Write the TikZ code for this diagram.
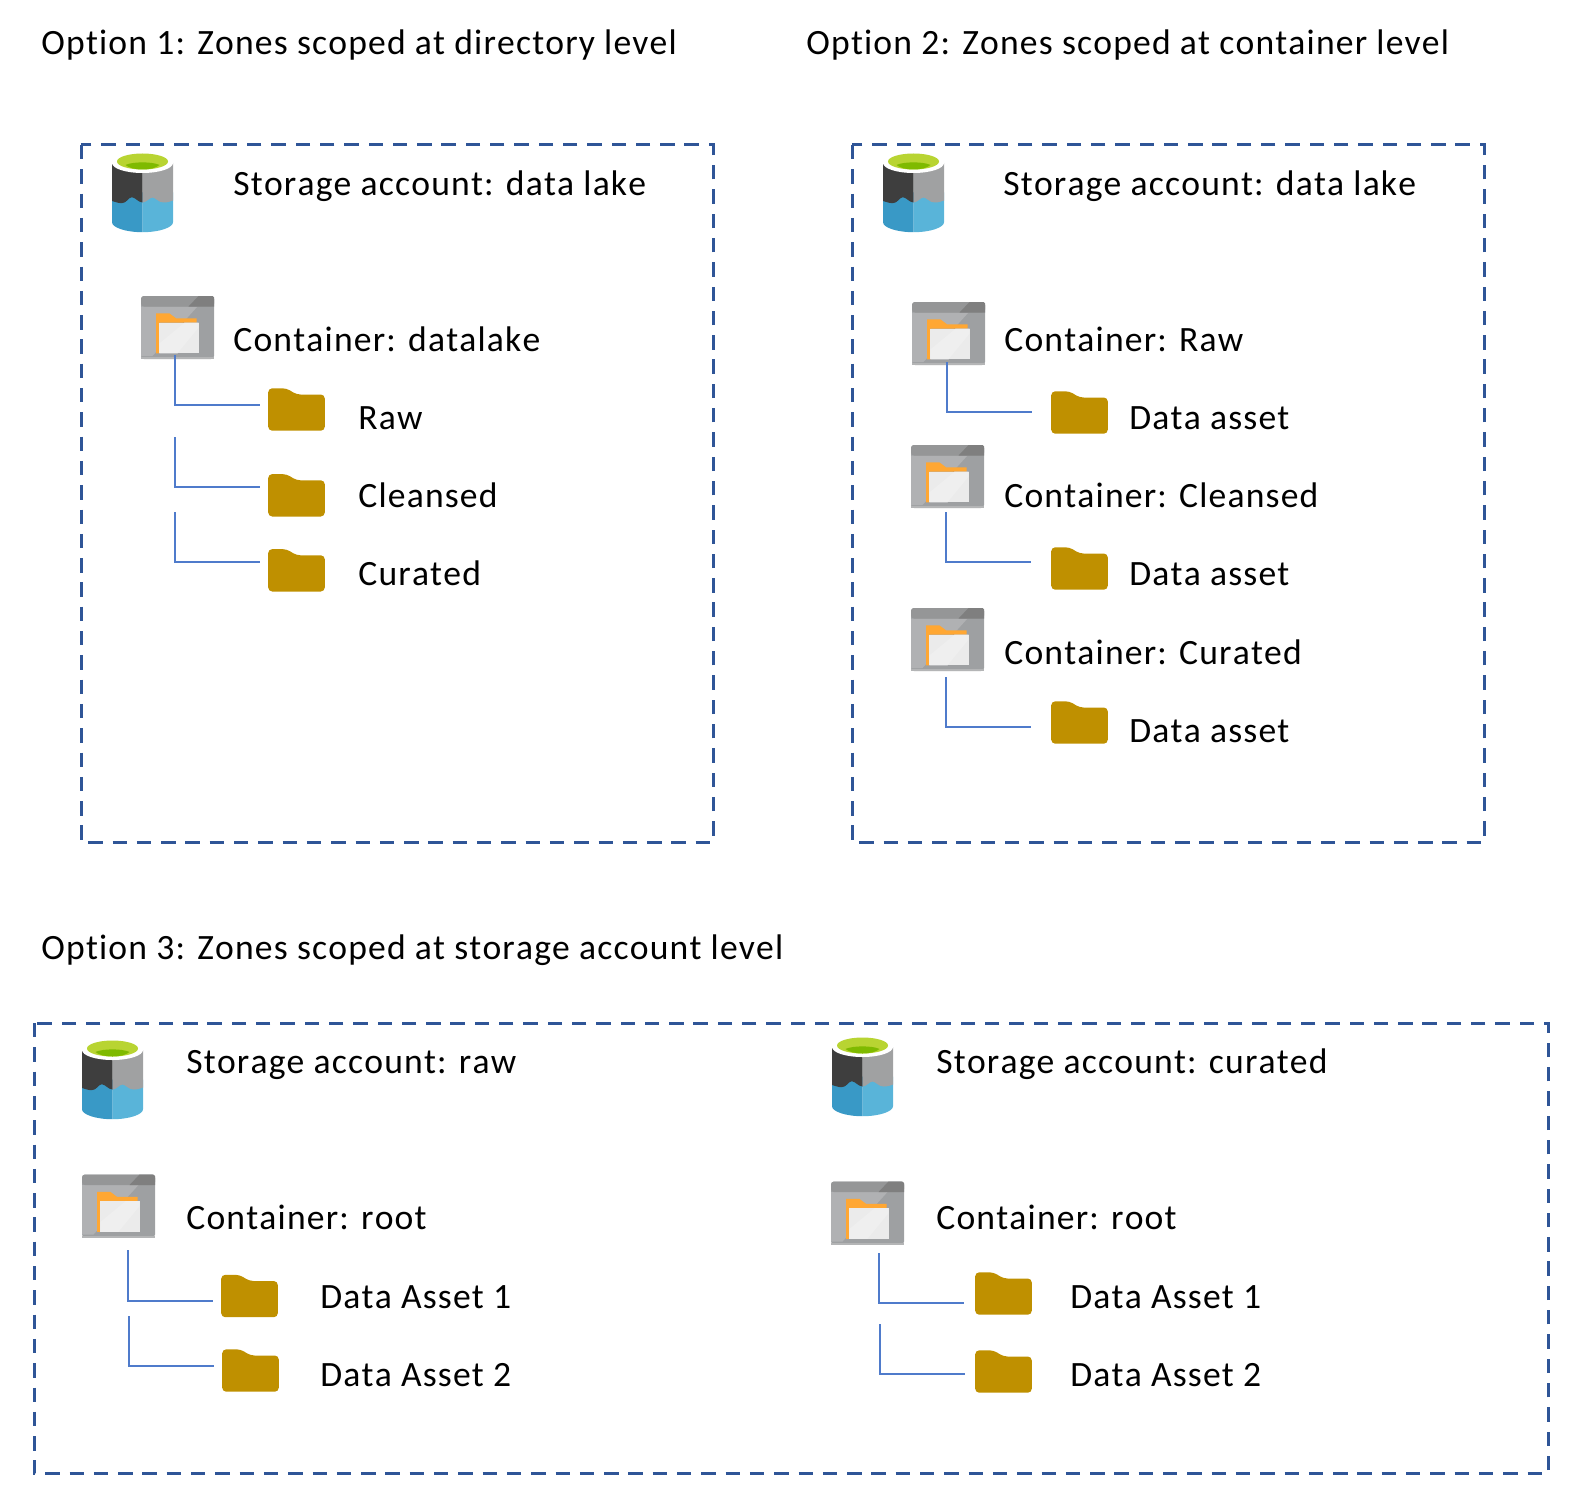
\documentclass[tikz,border=0pt]{standalone}
\usepackage{fontspec}
\setmainfont{Carlito}[LetterSpace=3.3,Kerning=Off,Ligatures=NoCommon]
\usetikzlibrary{positioning}
\definecolor{zoneblue}{HTML}{2F5597}
\definecolor{linkblue}{HTML}{4F7BCB}
\definecolor{foldergold}{HTML}{BF9000}
\begin{document}
\begin{tikzpicture}[
		x=0.5pt,y=-0.5pt,
		zone/.style={draw=zoneblue,line width=1.5pt,dash pattern=on 7.2pt off 4.95pt},
		link/.style={draw=linkblue,line width=0.8pt},
		txt/.style={anchor=base west,inner sep=0pt,font=\fontsize{17.8pt}{21pt}\selectfont},
		lakeicon/.pic={
			\fill [fill=white] (-30.5,-30) rectangle (30.5,30);
			\fill [fill=lakeblueA] (-30.5,0) -- (0,0) -- (0,39.7) .. controls (-17,39.7) and (-30.5,35) .. (-30.5,29.7) --cycle;
			\fill [fill=lakeblueB] (30.5,0) -- (0,0) -- (0,39.7) .. controls (17,39.7) and (30.5,35) .. (30.5,29.7) --cycle;
			\fill [fill=lakedark] (-30.5,-29.5) -- (0,-29.5) -- (0,10) .. controls (-4,10) and (-7,5) .. (-10.8,4.7) .. controls (-14,5) and (-16,10.7) .. (-20.8,10.7) .. controls (-25,10.7) and (-28,9) .. (-30.5,8.5) --cycle;
			\fill [fill=lakegray] (30.5,-29.5) -- (0,-29.5) -- (0,10) .. controls (4,10) and (7,5) .. (10,5) .. controls (13,5) and (16,10) .. (21,10) .. controls (25,10) and (28,9) .. (30.5,8) --cycle;
			\fill [fill=white] (0,-29.5) ellipse [x radius=30.5,y radius=10];
			\fill [fill=lakegreenA] (0,-31) ellipse [x radius=25.5,y radius=8];
			\fill [fill=lakegreenB] (-17,-27.5) .. controls (-10,-31) and (10,-31) .. (17,-27.5) .. controls (10,-21.5) and (-10,-21.5) .. (-17,-27.5) --cycle;
		},
		containericon/.pic={
			\fill [fill=boxgray,rounded corners=1.5] (-36.5,-31.5) rectangle (36.5,31.5);
			\fill [fill=boxlight] (-36.5,-21) -- (20,-21) -- (-25,28.5) -- (-36.5,28.5) --cycle;
			\fill [fill=barbgray,rounded corners=1.5] (-36.5,-31.5) rectangle (36.5,-21);
			\fill [fill=bardark] (21,-31.5) -- (35,-31.5) -- (36.5,-30) -- (36.5,-21) -- (11,-21) --cycle;
			\fill [fill=boxedge] (-36.5,29.5) rectangle (36.5,31.5);
			\fill [fill=tabgold] (-21.5,-14.2) -- (-8.2,-14.2) -- (-1.5,-9.2) -- (19.2,-9.2) -- (19.2,-4.8) -- (-18.2,-4.8) -- (-18.2,25.8) -- (-21.5,25.8) --cycle;
			\fill [fill=sheetwhite] (-18.2,-4.8) rectangle (21.2,25.8);
			\fill [fill=sheetlight] (-18.2,25.8) -- (-18.2,16) -- (7,-4.8) -- (21.2,-4.8) -- (21.2,0) -- (0,25.8) --cycle;
		},
		foldericon/.pic={
			\fill [fill=foldergold,rounded corners=2] (-28.3,21.2) -- (-28.3,-21.2) -- (-10,-21.2) -- (0,-15) -- (28.3,-15) -- (28.3,21.2) --cycle;
		}
	]
	\definecolor{lakeblueA}{HTML}{3999C6}
	\definecolor{lakeblueB}{HTML}{59B4D9}
	\definecolor{lakedark}{HTML}{3E3E3E}
	\definecolor{lakegray}{HTML}{A0A1A2}
	\definecolor{lakegreenA}{HTML}{B8D432}
	\definecolor{lakegreenB}{HTML}{7FBA00}
	\definecolor{boxgray}{HTML}{9EA0A2}
	\definecolor{boxlight}{HTML}{B0B1B3}
	\definecolor{boxedge}{HTML}{B4B5B6}
	\definecolor{barbgray}{HTML}{959697}
	\definecolor{bardark}{HTML}{7F7F7F}
	\definecolor{tabgold}{HTML}{FFA733}
	\definecolor{sheetwhite}{HTML}{EBEBEB}
	\definecolor{sheetlight}{HTML}{EFEFEF}
	\useasboundingbox (0,0) rectangle (1588,1503);

	\node [txt] (title1) at (41,55) {Option 1: Zones scoped at directory level};
	\node [txt] (title2) at (806,55) {Option 2: Zones scoped at container level};
	\node [txt] (title3) at (41,959) {Option 3: Zones scoped at storage account level};

	\draw [zone] (81,145) rectangle (713,842.5);
	\draw [zone] (852,145) rectangle (1484,842.5);
	\draw [zone] (34,1023) rectangle (1548.5,1473.5);

	\pic (lake1) at (142.5,192.5) {lakeicon};
	\node [txt] (lake1-text) at (233,195.5) {Storage account: data lake};
	\pic (cont1) at (177.5,327.5) {containericon};
	\node [txt] (cont1-text) at (233,351) {Container: datalake};
	\pic (raw1) at (296.5,409.5) {foldericon};
	\node [txt] (raw1-text) at (358,429) {Raw};
	\pic (clean1) at (296.5,495.3) {foldericon};
	\node [txt] (clean1-text) at (358,507) {Cleansed};
	\pic (cur1) at (296.5,570.3) {foldericon};
	\node [txt] (cur1-text) at (358,585) {Curated};

	\coordinate (raw1-s) at (175,355);
	\coordinate (raw1-e) at (260,405);
	\coordinate (clean1-s) at (175,437);
	\coordinate (clean1-e) at (260,487);
	\coordinate (cur1-s) at (175,512);
	\coordinate (cur1-e) at (260,562);
	\draw [link] (raw1-s) |- (raw1-e);
	\draw [link] (clean1-s) |- (clean1-e);
	\draw [link] (cur1-s) |- (cur1-e);

	\pic (lake2) at (913.5,192.5) {lakeicon};
	\node [txt] (lake2-text) at (1003,195.5) {Storage account: data lake};
	\pic (cont2a) at (948.5,333.5) {containericon};
	\node [txt] (cont2a-text) at (1004,351) {Container: Raw};
	\pic (asset2a) at (1079.5,412.5) {foldericon};
	\node [txt] (asset2a-text) at (1129,429) {Data asset};
	\pic (cont2b) at (947.5,476.5) {containericon};
	\node [txt] (cont2b-text) at (1004,507) {Container: Cleansed};
	\pic (asset2b) at (1079.5,568.5) {foldericon};
	\node [txt] (asset2b-text) at (1129,585) {Data asset};
	\pic (cont2c) at (947.5,639.5) {containericon};
	\node [txt] (cont2c-text) at (1004,664) {Container: Curated};
	\pic (asset2c) at (1079.5,722.5) {foldericon};
	\node [txt] (asset2c-text) at (1129,742) {Data asset};

	\coordinate (asset2a-s) at (947,362);
	\coordinate (asset2a-e) at (1032,412);
	\coordinate (asset2b-s) at (946,512);
	\coordinate (asset2b-e) at (1031,562);
	\coordinate (asset2c-s) at (946,677);
	\coordinate (asset2c-e) at (1031,727);
	\draw [link] (asset2a-s) |- (asset2a-e);
	\draw [link] (asset2b-s) |- (asset2b-e);
	\draw [link] (asset2c-s) |- (asset2c-e);

	\pic (lake3) at (112.5,1079.5) {lakeicon};
	\node [txt] (lake3-text) at (186,1073) {Storage account: raw};
	\pic (cont3) at (118.5,1206) {containericon};
	\node [txt] (cont3-text) at (186,1229.5) {Container: root};
	\pic (asset3a) at (249.5,1296) {foldericon};
	\node [txt] (asset3a-text) at (320,1308) {Data Asset 1};
	\pic (asset3b) at (250.5,1370.5) {foldericon};
	\node [txt] (asset3b-text) at (320,1386) {Data Asset 2};

	\coordinate (asset3a-s) at (128,1250);
	\coordinate (asset3a-e) at (213,1301);
	\coordinate (asset3b-s) at (129,1316);
	\coordinate (asset3b-e) at (214,1366);
	\draw [link] (asset3a-s) |- (asset3a-e);
	\draw [link] (asset3b-s) |- (asset3b-e);

	\pic (lake4) at (862.5,1076.5) {lakeicon};
	\node [txt] (lake4-text) at (936,1073) {Storage account: curated};
	\pic (cont4) at (867.5,1213) {containericon};
	\node [txt] (cont4-text) at (936,1229.5) {Container: root};
	\pic (asset4a) at (1003.5,1293.5) {foldericon};
	\node [txt] (asset4a-text) at (1070,1308) {Data Asset 1};
	\pic (asset4b) at (1003.5,1371.5) {foldericon};
	\node [txt] (asset4b-text) at (1070,1386) {Data Asset 2};

	\coordinate (asset4a-s) at (879,1253);
	\coordinate (asset4a-e) at (964,1303);
	\coordinate (asset4b-s) at (880,1324);
	\coordinate (asset4b-e) at (965,1374);
	\draw [link] (asset4a-s) |- (asset4a-e);
	\draw [link] (asset4b-s) |- (asset4b-e);
\end{tikzpicture}
\end{document}
